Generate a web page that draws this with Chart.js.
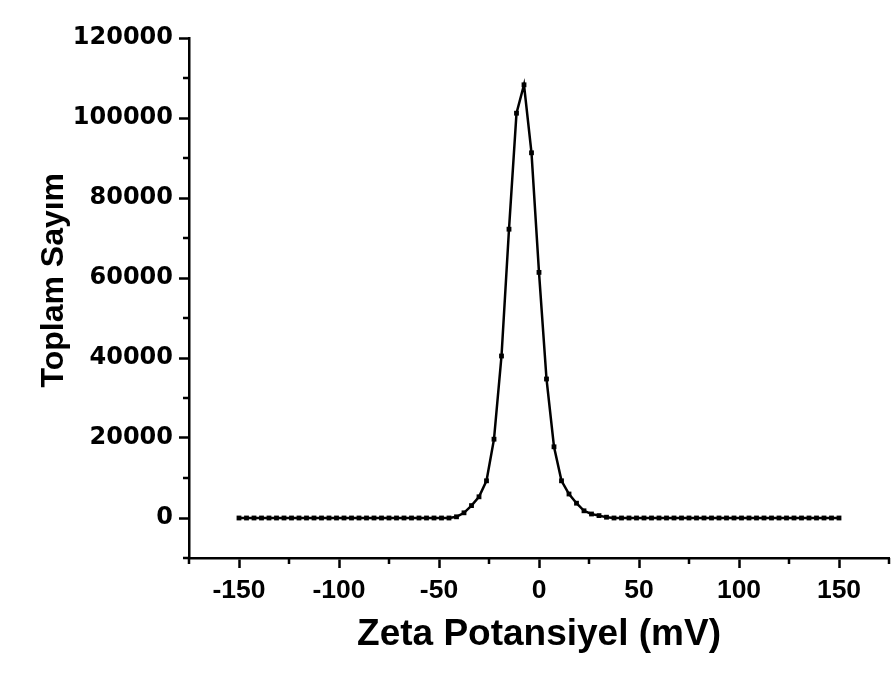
<!DOCTYPE html>
<html>
<head>
<meta charset="utf-8">
<script src="https://cdn.jsdelivr.net/npm/chart.js@4.4.1/dist/chart.umd.min.js"></script>
<style>
  html, body { margin: 0; padding: 0; background: #fff; }
  #wrap { width: 893px; height: 679px; }
</style>
</head>
<body>
<div id="wrap"><canvas id="zeta-chart"></canvas></div>
<script>
// zeta potential (mV) and total counts
const zeta = [
  -150, -146.25, -142.5, -138.75, -135, -131.25, -127.5, -123.75, -120, -116.25,
  -112.5, -108.75, -105, -101.25, -97.5, -93.75, -90, -86.25, -82.5, -78.75,
  -75, -71.25, -67.5, -63.75, -60, -56.25, -52.5, -48.75, -45, -41.25,
  -37.5, -33.75, -30, -26.25, -22.5, -18.75, -15, -11.25, -7.5, -3.75,
  0, 3.75, 7.5, 11.25, 15, 18.75, 22.5, 26.25, 30, 33.75,
  37.5, 41.25, 45, 48.75, 52.5, 56.25, 60, 63.75, 67.5, 71.25,
  75, 78.75, 82.5, 86.25, 90, 93.75, 97.5, 101.25, 105, 108.75,
  112.5, 116.25, 120, 123.75, 127.5, 131.25, 135, 138.75, 142.5, 146.25,
  150
];
const counts = [
  0, 0, 0, 0, 0, 0, 0, 0, 0, 0,
  0, 0, 0, 0, 0, 0, 0, 0, 0, 0,
  0, 0, 0, 0, 0, 0, 0, 0, 0, 300,
  1300, 3100, 5300, 9300, 19700, 40500, 72200, 101200, 108300, 91300,
  61400, 34750, 17800, 9300, 6000, 3700, 1800, 1000, 600, 200,
  0, 0, 0, 0, 0, 0, 0, 0, 0, 0,
  0, 0, 0, 0, 0, 0, 0, 0, 0, 0,
  0, 0, 0, 0, 0, 0, 0, 0, 0, 0,
  0
];

const xMajor = [-150, -100, -50, 0, 50, 100, 150];
const xMinor = [-175, -125, -75, -25, 25, 75, 125, 175];
const yMajor = [0, 20000, 40000, 60000, 80000, 100000, 120000];
const yMinor = [-10000, 10000, 30000, 50000, 70000, 90000, 110000];

const points = zeta.map((z, i) => ({ x: z, y: counts[i] }));

// short minor ticks drawn outside the axes
const minorTicks = {
  id: 'minorTicks',
  afterDraw(chart) {
    const ctx = chart.ctx;
    const xs = chart.scales.x, ys = chart.scales.y;
    const area = chart.chartArea;
    ctx.save();
    ctx.strokeStyle = '#000';
    ctx.lineWidth = 2.5;
    ctx.beginPath();
    xMinor.forEach(v => {
      const px = xs.getPixelForValue(v);
      ctx.moveTo(px, area.bottom);
      ctx.lineTo(px, area.bottom + 6);
    });
    yMinor.forEach(v => {
      const py = ys.getPixelForValue(v);
      ctx.moveTo(area.left, py);
      ctx.lineTo(area.left - 6, py);
    });
    ctx.stroke();
    ctx.restore();
  }
};

const ctx = document.getElementById('zeta-chart').getContext('2d');
new Chart(ctx, {
  type: 'line',
  data: {
    datasets: [{
      data: points,
      borderColor: '#000',
      backgroundColor: '#000',
      borderWidth: 2.5,
      tension: 0,
      pointStyle: 'rect',
      pointRadius: 3.4,
      pointBorderWidth: 0,
      fill: false
    }]
  },
  options: {
    responsive: true,
    maintainAspectRatio: false,
    animation: false,
    layout: { padding: { top: 38, right: 3, left: 0, bottom: 0 } },
    plugins: { legend: { display: false }, tooltip: { enabled: false } },
    scales: {
      x: {
        type: 'linear',
        min: -175,
        max: 175,
        afterBuildTicks: s => { s.ticks = xMajor.map(v => ({ value: v })); },
        afterFit: s => { s.height = 121; },
        border: { color: '#000', width: 2.5 },
        grid: { drawOnChartArea: false, tickLength: 10, tickColor: '#000', tickWidth: 2.5 },
        ticks: {
          autoSkip: false,
          maxRotation: 0,
          padding: 7,
          color: '#000',
          font: { family: 'Liberation Sans, Arial', weight: 'bold', size: 26.5 },
          callback: v => String(v)
        },
        title: {
          display: true,
          text: 'Zeta Potansiyel (mV)',
          color: '#000',
          font: { family: 'Liberation Sans, Arial', weight: 'bold', size: 37 },
          padding: { top: 4, bottom: 22 }
        }
      },
      y: {
        min: -10000,
        max: 120000,
        afterBuildTicks: s => { s.ticks = yMajor.map(v => ({ value: v })); },
        afterFit: s => { s.width = 189; },
        border: { color: '#000', width: 2.5 },
        grid: { drawOnChartArea: false, tickLength: 10, tickColor: '#000', tickWidth: 2.5 },
        ticks: {
          autoSkip: false,
          padding: 6,
          color: '#000',
          font: { family: 'DejaVu Sans', weight: 'bold', size: 24 },
          callback: v => String(v)
        },
        title: {
          display: true,
          // leading spaces lift the label a little above the axis middle
          text: '    Toplam Sayım',
          color: '#000',
          font: { family: 'Liberation Sans, Arial', weight: 'bold', size: 32 },
          padding: { top: 35, bottom: 4 }
        }
      }
    }
  },
  plugins: [minorTicks]
});
</script>
</body>
</html>
